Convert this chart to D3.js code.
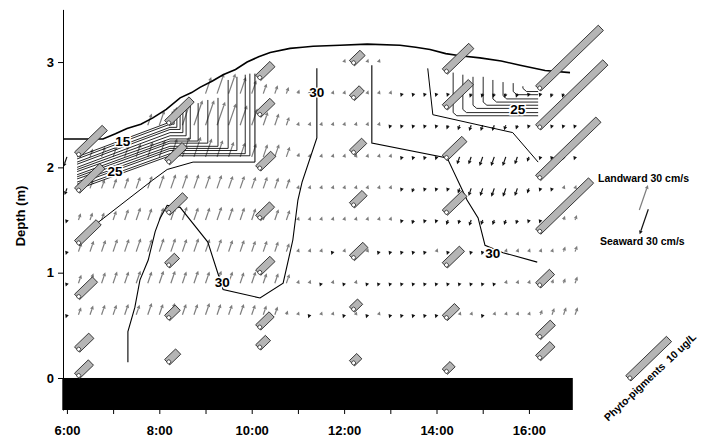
<!DOCTYPE html>
<html>
<head>
<meta charset="utf-8">
<script src="https://cdn.jsdelivr.net/npm/d3@7/dist/d3.min.js"></script>
<style>
  html, body { margin: 0; padding: 0; background: #fff; }
  svg { display: block; }
  text { font-family: "Liberation Sans", Arial, Helvetica, sans-serif; font-weight: bold; fill: #000; }
</style>
</head>
<body>
<svg id="chart" width="712" height="441"></svg>
<script>
// ---------- sampling grid ----------
// time of day (decimal hours), one current profile every 15 minutes
const sampleTimes = [6,6.25,6.5,6.75,7,7.25,7.5,7.75,8,8.25,8.5,8.75,9,9.25,9.5,9.75,
  10,10.25,10.5,10.75,11,11.25,11.5,11.75,12,12.25,12.5,12.75,13,13.25,13.5,13.75,
  14,14.25,14.5,14.75,15,15.25,15.5,15.75,16,16.25,16.5,16.75,17];
// height of each current bin above the bed (m)
const binDepths = [0.6, 0.9, 1.2, 1.5, 1.8, 2.1, 2.4, 2.7, 3.0];

// along-channel current per bin, cm/s (positive = landward, negative = seaward)
const speed06 = [-3, 9,11,12,12,13,12,14,13,14,13,13,14,13,12,13,12,11,10,
  5,3,-1,1,1,-1,1,-1,1,-1.5,-2,-2,-2,-1.5,1,1,1,-1,1,1.5,1.5,4,6,8,9,9];
const speed09 = [-3, 10,12,13,14,14,15,14,15,15,14,15,14,15,14,13,14,12,12,
  11,3,1,-1,1,-1,1,-1,-1,-2,-3,-4,-3,-2,-2,-2,-2,-2,-1,1,1,1,2,5,6,8];
const speed12 = [-4, 11,13,14,15,15,16,15,16,16,15,16,15,15,14,14,13,13,12,
  10,4,3,1,-1,1,1,1,-1.5,-4,-4,-3,-3,1,-2,-4,-3,-3,-2,1,1,1.5,2,4,6,7];
const speed15 = [-4, 8,9,9,11,13,15,14,15,15,16,15,15,16,15,15,14,13,13,
  12,4,2,1,1,1,1,1,1,1,-2,-5,-4,-4,-6,-5,-7,-6,-6,-6,-5,-4,-2,1,5,6];
const speed18 = [-8, 8,10,11,12,13,14,15,16,17,17,17,16,16,15,15,14,14,13,
  12,4,3,1,1,1,1,1,1,1,-1.5,-5,-3,-2,-3,-6,-9,-9,-10,-10,-9,-6,-3,-2,1,1];
const speed21 = [-12, 8,10,12,13,14,16,18,20,22,24,24,22,20,18,17,16,15,15,
  12,5,3,2,1,1,1,1,1,1,-2,-3,-3,-4,-5,-9,-9,-11,-11,-11,-9,-6,-3,-2,-1,-1];
const speed24 = [null,null,null,null,null,null,null, 14,18,22,26,30,30,28,26,24,20,16,14,
  10,4,2,1,1,1,1,1,1,-1,-1.5,-3,-4,-4,-5,-6,-7,-7,-7,-6,-5,-4,-3,-3,-2,-2];
const speed27 = [null,null,null,null,null,null,null,null,null,null,null,null,
  20,24,24,20,16,12,10,
  8,5,3,1,1,1,1,1,1,1,-1,-4,-4,-3,-3,-4,-5,-5,-5,-5,-5,-4,-4,-5,-5,-5];
const speed30 = [null,null,null,null,null,null,null,null,null,null,null,null,
  null,null,null,null,null,null,null,null,null,null,null,null,
  1,1,1,1,
  null,null,null,null,null,null,null,null,null,null,null,null,null,null,null,null,null];
const binSpeeds = [speed06, speed09, speed12, speed15, speed18, speed21, speed24, speed27, speed30];

// ---------- water surface ----------
const surfaceTime  = [5.92,6.78,7.05,7.30,7.60,7.86,8.15,8.45,8.70,8.88,9.15,9.38,9.65,9.90,10.15,10.40,10.83,11.10,11.33,11.91,12.50,13.21,13.55,13.86,14.20,14.51,14.94,15.40,15.81,16.35,16.89];
const surfaceDepth = [2.27,2.27,2.32,2.37,2.41,2.47,2.55,2.66,2.71,2.76,2.82,2.88,2.93,3.00,3.05,3.09,3.13,3.14,3.15,3.16,3.17,3.16,3.14,3.12,3.08,3.06,3.04,3.01,2.97,2.92,2.90];

// ---------- salinity isolines ----------
const iso30WestT = [7.32,7.32,7.47,7.58,7.76,7.91,8.02,8.17,8.45,9.05,9.38,10.18,10.68,10.89,11.00,11.09,11.41,11.41];
const iso30WestD = [0.15,0.44,0.67,0.93,1.12,1.39,1.52,1.64,1.62,1.29,0.84,0.76,0.90,1.31,1.69,1.86,2.28,2.94];
const iso30EastT = [12.60,12.60,14.23,14.66,14.90,15.05,15.44,16.18];
const iso30EastD = [2.97,2.23,2.09,1.69,1.52,1.26,1.19,1.10];
const iso29EastT = [13.81,13.92,15.65,16.20];
const iso29EastD = [2.94,2.50,2.33,2.05];
const iso29WestT = [6.39,7.30,7.86,8.17,8.73,10.07,10.07];
const iso29WestD = [1.38,1.69,1.88,1.98,2.05,2.05,2.89];

// brackish wedge at the start of the flood: isolines 15..28
const wedgeLevels   = [15,16,17,18,19,20,21,22,23,24,25,26,27,28];
const wedgeStartT   = 6.22;
const wedgeStartD   = [2.10,2.08,2.05,2.03,2.00,1.98,1.96,1.93,1.91,1.89,1.86,1.84,1.81,1.79];
const wedgeBendT    = 8.23;
const wedgeBendD    = [2.43,2.41,2.38,2.36,2.33,2.30,2.27,2.25,2.23,2.20,2.18,2.16,2.13,2.11];
const wedgeRiseT    = [8.28,8.32,8.38,8.45,8.51,8.58,8.67,8.84,9.05,9.27,9.49,9.68,9.86,9.96];
const wedgeTopD     = [2.53,2.55,2.56,2.58,2.60,2.61,2.59,2.61,2.64,2.66,2.83,2.86,2.88,2.89];

// fresher surface layer on the ebb: isolines 25..28 (half-unit steps)
const lensRiseT  = [14.36,14.57,14.79,15.01,15.22,15.44,15.66,15.87];
const lensTopD   = [2.90,2.88,2.86,2.86,2.83,2.81,2.80,2.77];
const lensFloorD = [2.49,2.52,2.56,2.59,2.62,2.65,2.69,2.72];
const lensEndT   = 16.20;

// isoline labels
const isoLabelText = ["15","25","30","30","30","25"];
const isoLabelT    = [7.21,7.04,9.36,11.41,15.22,15.76];
const isoLabelD    = [2.25,1.96,0.91,2.71,1.19,2.55];

// ---------- phyto-pigment samples (ug/L) ----------
const pigmentTime  = [6.22,6.22,6.22,6.22,6.22,6.22,
  8.17,8.17,8.17,8.17,8.17,8.17,
  10.14,10.14,10.14,10.14,10.14,10.14,10.14,
  12.17,12.17,12.17,12.17,12.17,12.17,12.17,
  14.18,14.18,14.18,14.18,14.18,14.18,14.18,
  16.20,16.20,16.20,16.20,16.20,16.20,16.20];
const pigmentDepth = [2.12,1.78,1.28,0.77,0.27,0.02,
  2.42,2.05,1.57,1.07,0.57,0.15,
  2.85,2.50,1.99,1.52,1.00,0.48,0.29,
  2.99,2.66,2.14,1.64,1.14,0.65,0.14,
  2.91,2.57,2.09,1.57,1.07,0.57,0.06,
  2.75,2.38,1.90,1.39,0.88,0.39,0.19];
const pigmentConc  = [6.8,6.2,5.3,4.4,3.5,3.4,
  6.0,4.3,4.4,2.4,2.6,2.7,
  3.5,3.5,3.7,3.4,3.5,3.3,2.4,
  2.6,2.4,3.0,3.1,3.3,2.0,1.8,
  6.5,6.4,4.8,4.8,4.2,3.0,1.9,
  15.4,16.5,14.8,13.0,3.4,3.6,3.5];

// ---------- axes ----------
const hourTicks  = [6,7,8,9,10,11,12,13,14,15,16];
const depthTicks = [0,1,2,3];
const bedTop = 0, bedBottom = -0.304;
const timeDomain = [5.9, 16.95];
const depthDomain = [bedBottom, 3.5];
const legendSpeed = 30;      // cm/s
const legendPigment = 10;    // ug/L

// ---------- scales ----------
const x = d3.scaleLinear().domain(timeDomain).range([62.3, 572.8]);
const y = d3.scaleLinear().domain(depthDomain).range([410, 9.4]);
const speedLen = d3.scaleLinear().domain([0, 30]).range([0, 26.5]);
const pigmentLen = d3.scaleLinear().domain([0, 10]).range([0, 56.6]);

const svg = d3.select("#chart");
const VEC_TILT = 19 * Math.PI / 180;   // channel axis drawn tilted from vertical
const BAR_ANGLE = 44;                  // pigment bars (deg above horizontal)

function drawVector(g, x0, y0, v) {
  const s = v >= 0 ? 1 : -1;
  const col = v >= 0 ? "#7d7d7d" : "#111";
  const hl = 3.8, hw = 1.9;
  const L = Math.max(speedLen(Math.abs(v)), 3.6);
  const ux = s * Math.sin(VEC_TILT), uy = -s * Math.cos(VEC_TILT);
  const x1 = x0 + ux * L, y1 = y0 + uy * L;
  const bx = x1 - ux * hl, by = y1 - uy * hl;
  const px = -uy, py = ux;
  if (L > hl + 0.3) {
    g.append("line").attr("x1", x0).attr("y1", y0).attr("x2", bx).attr("y2", by)
      .attr("stroke", col).attr("stroke-width", 1.2);
  }
  g.append("path")
    .attr("d", `M${x1},${y1}L${bx + px * hw},${by + py * hw}L${bx - px * hw},${by - py * hw}Z`)
    .attr("fill", col);
}

function drawPigment(g, px, py, c) {
  const L = pigmentLen(c);
  const bar = g.append("g").attr("transform", `translate(${px},${py}) rotate(${-BAR_ANGLE})`);
  bar.append("rect").attr("x", 0).attr("y", -3.7).attr("width", L).attr("height", 7.4)
    .attr("fill", "#b5b5b5").attr("stroke", "#1b1b1b").attr("stroke-width", 0.8);
  bar.append("circle").attr("cx", 1.4).attr("cy", 0.9).attr("r", 2.0)
    .attr("fill", "#fff").attr("stroke", "#1b1b1b").attr("stroke-width", 0.7);
}

// ---------- seabed ----------
svg.append("rect")
  .attr("x", x(timeDomain[0])).attr("y", y(bedTop))
  .attr("width", x(timeDomain[1]) - x(timeDomain[0]))
  .attr("height", y(bedBottom) - y(bedTop))
  .attr("fill", "#000");

// ---------- current vectors ----------
const vecLayer = svg.append("g");
binDepths.forEach((d, r) => {
  binSpeeds[r].forEach((v, i) => {
    if (v == null) return;
    drawVector(vecLayer, x(sampleTimes[i]), y(d), v);
  });
});

// ---------- isolines ----------
const line = d3.line().x(p => x(p[0])).y(p => y(p[1]));
const isoLayer = svg.append("g").attr("fill", "none").attr("stroke", "#000");
function isoPath(T, D, w) {
  isoLayer.append("path").attr("d", line(T.map((t, k) => [t, D[k]]))).attr("stroke-width", w);
}
isoPath(iso30WestT, iso30WestD, 1.1);
isoPath(iso30EastT, iso30EastD, 1.1);
isoPath(iso29EastT, iso29EastD, 1.0);
isoPath(iso29WestT, iso29WestD, 1.0);
wedgeLevels.forEach((lv, k) => {
  isoPath([wedgeStartT, wedgeBendT, wedgeRiseT[k], wedgeRiseT[k]],
          [wedgeStartD[k], wedgeBendD[k], wedgeBendD[k], wedgeTopD[k]], 0.85);
});
lensRiseT.forEach((t, k) => {
  isoPath([t, t, t + 0.08, lensEndT], [lensTopD[k], lensFloorD[k] + 0.03, lensFloorD[k], lensFloorD[k]], 0.85);
});

// ---------- water surface ----------
svg.append("path")
  .attr("d", line(surfaceTime.map((t, k) => [t, surfaceDepth[k]])))
  .attr("fill", "none").attr("stroke", "#000").attr("stroke-width", 1.6);

// ---------- pigment bars ----------
const pigLayer = svg.append("g");
pigmentConc.forEach((c, k) => drawPigment(pigLayer, x(pigmentTime[k]), y(pigmentDepth[k]), c));

// ---------- isoline labels ----------
svg.append("g").selectAll("text").data(isoLabelText).join("text")
  .attr("x", (d, k) => x(isoLabelT[k])).attr("y", (d, k) => y(isoLabelD[k]))
  .attr("dy", "0.36em").attr("text-anchor", "middle")
  .attr("font-size", 13.5)
  .attr("stroke", "#fff").attr("stroke-width", 3).attr("paint-order", "stroke")
  .text(d => d);

// ---------- axes ----------
const yAxis = d3.axisLeft(y).tickValues(depthTicks).tickFormat(d3.format("d"))
  .tickSize(5).tickPadding(4).tickSizeOuter(0);
const gy = svg.append("g").attr("transform", "translate(63,0)").call(yAxis);
gy.selectAll("text").attr("font-size", 13);
gy.selectAll("line,path").attr("stroke", "#000");

const xAxis = d3.axisBottom(x).tickValues(hourTicks)
  .tickFormat(h => h % 2 === 0 ? h + ":00" : "")
  .tickSize(4).tickPadding(12);
const gx = svg.append("g").attr("transform", `translate(0,${y(bedBottom)})`).call(xAxis);
gx.select(".domain").remove();
gx.selectAll("text").attr("font-size", 13);
gx.selectAll("line").attr("stroke", "#000");

svg.append("text")
  .attr("transform", "translate(25,216) rotate(-90)")
  .attr("text-anchor", "middle").attr("font-size", 13)
  .text("Depth (m)");

// ---------- legend ----------
const leg = svg.append("g");
leg.append("text").attr("x", 598).attr("y", 182).attr("font-size", 10.5).text("Landward 30 cm/s");
drawVector(leg, 639.3, 210, legendSpeed);
drawVector(leg, 648.3, 209.3, -legendSpeed);
leg.append("text").attr("x", 600).attr("y", 245).attr("font-size", 10.5).text("Seaward 30 cm/s");
drawPigment(leg, 628.3, 378.3, legendPigment);
leg.append("text")
  .attr("transform", "translate(608.3,421.7) rotate(-43.4)")
  .attr("font-size", 10.5).style("white-space", "pre")
  .text("Phyto-pigments  10 ug/L");
</script>
</body>
</html>
